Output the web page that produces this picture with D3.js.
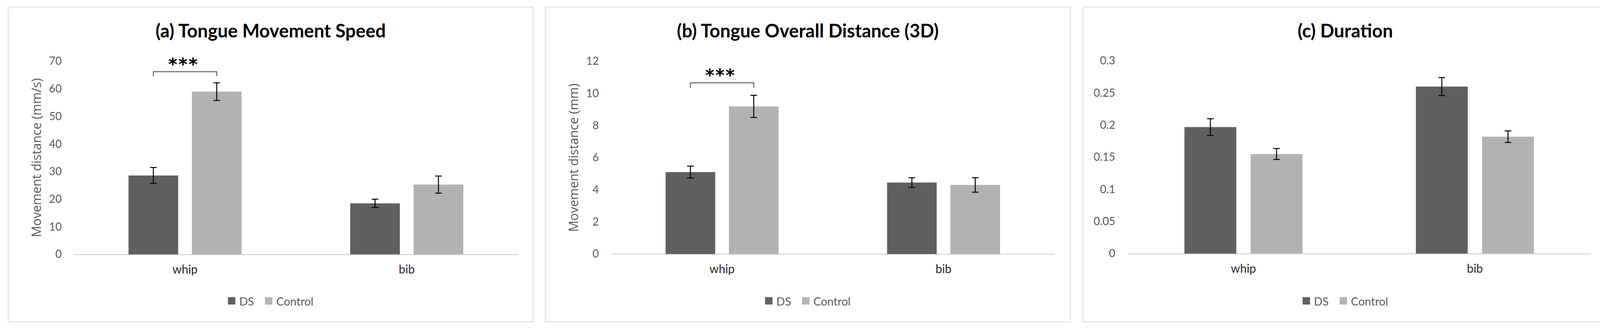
<!DOCTYPE html>
<html>
<head>
<meta charset="utf-8">
<script src="https://cdn.jsdelivr.net/npm/d3@7"></script>
<style>
  html, body { margin: 0; padding: 0; background: #ffffff; }
  svg { display: block; }
</style>
</head>
<body>
<div id="chart"></div>
<script>
// ---- data ----
const categories = ["whip", "bib"];
const seriesNames = ["DS", "Control"];

const speedDS = [28.6, 18.5];
const speedDSErr = [2.9, 1.5];
const speedControl = [59.0, 25.3];
const speedControlErr = [3.2, 3.1];
const speedTicks = [0, 10, 20, 30, 40, 50, 60, 70];

const distDS = [5.1, 4.45];
const distDSErr = [0.37, 0.3];
const distControl = [9.19, 4.3];
const distControlErr = [0.69, 0.45];
const distTicks = [0, 2, 4, 6, 8, 10, 12];

const durDS = [0.197, 0.26];
const durDSErr = [0.013, 0.014];
const durControl = [0.155, 0.182];
const durControlErr = [0.0085, 0.009];
const durTicks = [0, 0.05, 0.1, 0.15, 0.2, 0.25, 0.3];
const durTickLabels = ["0", "0.05", "0.1", "0.15", "0.2", "0.25", "0.3"];

const panelTitles = ["(a) Tongue Movement Speed", "(b) Tongue Overall Distance (3D)", "(c) Duration"];
const yTitles = ["Movement distance (mm/s)", "Movement distance (mm)", ""];

// significance brackets: category, bracket level and foot level (data units)
const sigSpeed = { category: "whip", level: 66.2, foot: 64.6, label: "***" };
const sigDist = { category: "whip", level: 10.66, foot: 10.35, label: "***" };

const colors = { DS: "#606060", Control: "#b2b2b2" };

const panels = [
  { title: panelTitles[0], yTitle: yTitles[0], ticks: speedTicks, fmt: d => String(d),
    means: [speedDS, speedControl], errs: [speedDSErr, speedControlErr], sig: sigSpeed,
    left: 21, plotLeft: 169, plotRight: 1304, y0: 652, yTop: 157, yTitleX: 71 },
  { title: panelTitles[1], yTitle: yTitles[1], ticks: distTicks, fmt: d => String(d),
    means: [distDS, distControl], errs: [distDSErr, distControlErr], sig: sigDist,
    left: 1396, plotLeft: 169, plotRight: 1303, y0: 651, yTop: 157, yTitleX: 71 },
  { title: panelTitles[2], yTitle: yTitles[2], ticks: durTicks, fmt: (d, i) => durTickLabels[i],
    means: [durDS, durControl], errs: [durDSErr, durControlErr], sig: null,
    left: 2772, plotLeft: 115, plotRight: 1300, y0: 650, yTop: 156, yTitleX: 0 }
];

const W = 4135, H = 856;
const panelW = 1344, panelTop = 18, panelH = 807;

const svg = d3.select("#chart").append("svg").attr("width", W).attr("height", H);

panels.forEach(p => {
  const g = svg.append("g").attr("transform", `translate(${p.left},${panelTop})`);

  // frame
  g.append("rect").attr("x", 0).attr("y", 0).attr("width", panelW).attr("height", panelH)
    .attr("fill", "#ffffff").attr("stroke", "#d9d9d9").attr("stroke-width", 2);

  const yPix0 = p.y0 - panelTop, yPixTop = p.yTop - panelTop;
  const y = d3.scaleLinear().domain([p.ticks[0], p.ticks[p.ticks.length - 1]]).range([yPix0, yPixTop]);
  const x0 = d3.scaleBand().domain(categories).range([p.plotLeft, p.plotRight]).padding(0);
  const bw = x0.bandwidth();
  const barW = bw * 0.224, gap = bw * 0.062;
  // bar left edge, offset from the band centre
  const barX = (cat, si) => x0(cat) + bw / 2 + (si === 0 ? -(gap / 2 + barW) : gap / 2);

  // title
  g.append("text").attr("x", panelW / 2).attr("y", 78)
    .attr("text-anchor", "middle")
    .style("font-family", "Lato, 'Open Sans', sans-serif").style("font-weight", "700")
    .style("font-size", "47px").attr("fill", "#000000")
    .text(p.title);

  // y axis
  const yAxis = d3.axisLeft(y).tickValues(p.ticks).tickFormat(p.fmt).tickSize(0).tickPadding(32);
  const ya = g.append("g").attr("transform", `translate(${p.plotLeft},0)`).call(yAxis);
  ya.select(".domain").remove();
  ya.selectAll("text").style("font-family", "Lato, sans-serif").style("font-size", "28px").attr("fill", "#595959");

  // x axis
  const xAxis = d3.axisBottom(x0).tickSize(0).tickSizeOuter(0).tickPadding(28);
  const xa = g.append("g").attr("transform", `translate(0,${yPix0})`).call(xAxis);
  xa.select(".domain").attr("stroke", "#d9d9d9").attr("stroke-width", 3);
  xa.selectAll("text").style("font-family", "Lato, sans-serif").style("font-size", "30px").attr("fill", "#262626");

  // y axis title
  if (p.yTitle) {
    g.append("text")
      .attr("transform", `translate(${p.yTitleX},${404 - panelTop}) rotate(-90)`)
      .attr("text-anchor", "middle").attr("dominant-baseline", "central")
      .style("font-family", "'Open Sans', sans-serif").style("font-size", "32px").attr("fill", "#595959")
      .text(p.yTitle);
  }

  // bars
  seriesNames.forEach((s, si) => {
    const rows = categories.map((c, ci) => ({ c, v: p.means[si][ci], e: p.errs[si][ci] }));
    g.append("g").selectAll("rect").data(rows).join("rect")
      .attr("x", d => barX(d.c, si)).attr("width", barW)
      .attr("y", d => y(d.v)).attr("height", d => y(0) - y(d.v))
      .attr("fill", colors[s]);

    // error bars
    const eg = g.append("g").attr("stroke", "#000000").attr("stroke-width", 2.5);
    rows.forEach(d => {
      const cx = barX(d.c, si) + barW / 2;
      eg.append("line").attr("x1", cx).attr("x2", cx).attr("y1", y(d.v + d.e)).attr("y2", y(d.v - d.e));
      eg.append("line").attr("x1", cx - 8.5).attr("x2", cx + 8.5).attr("y1", y(d.v + d.e)).attr("y2", y(d.v + d.e));
      eg.append("line").attr("x1", cx - 8.5).attr("x2", cx + 8.5).attr("y1", y(d.v - d.e)).attr("y2", y(d.v - d.e));
    });
  });

  // significance bracket
  if (p.sig) {
    const xa0 = barX(p.sig.category, 0) + barW / 2;
    const xb0 = barX(p.sig.category, 1) + barW / 2;
    g.append("path")
      .attr("d", `M${xa0},${y(p.sig.foot)}V${y(p.sig.level)}H${xb0}V${y(p.sig.foot)}`)
      .attr("fill", "none").attr("stroke", "#404040").attr("stroke-width", 2);
    g.append("text").attr("x", (xa0 + xb0) / 2 - 4).attr("y", y(p.sig.level) - 4)
      .attr("text-anchor", "middle")
      .style("font-family", "'DejaVu Sans', sans-serif").style("font-size", "44px").style("font-weight", "700")
      .style("letter-spacing", "3px").attr("fill", "#000000")
      .text(p.sig.label);
  }

  // legend, centred on the panel
  const lg = g.append("g");
  let cx = 0;
  seriesNames.forEach((s, si) => {
    lg.append("rect").attr("x", cx).attr("y", -9.5).attr("width", 19).attr("height", 19).attr("fill", colors[s]);
    const t = lg.append("text").attr("x", cx + 29).attr("y", 0).attr("dominant-baseline", "central")
      .style("font-family", "Lato, sans-serif").style("font-size", "29px").attr("fill", "#595959").text(s);
    cx += 29 + t.node().getComputedTextLength() + 28;
  });
  const lw = cx - 28;
  lg.attr("transform", `translate(${panelW / 2 - lw / 2},${771 - panelTop})`);
});
</script>
</body>
</html>
